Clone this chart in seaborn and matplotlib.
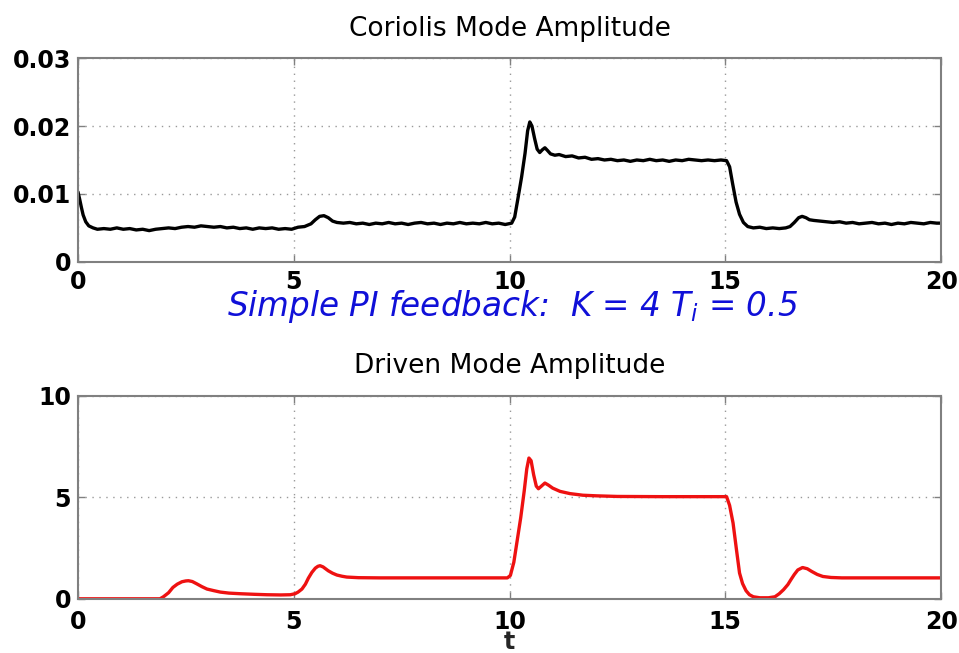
import numpy as np
import pandas as pd
import seaborn as sns
import matplotlib
matplotlib.use("Agg")
import matplotlib.pyplot as plt

# Coriolis mode amplitude
coriolis_t = [0.0, 0.04, 0.08, 0.12, 0.18, 0.25, 0.35, 0.45, 0.6, 0.75, 0.9, 1.05, 1.2, 1.35,
              1.5, 1.65, 1.8, 1.95, 2.1, 2.25, 2.4, 2.55, 2.7, 2.85, 3.0, 3.15, 3.3, 3.45,
              3.6, 3.75, 3.9, 4.05, 4.2, 4.35, 4.5, 4.65, 4.8, 4.95, 5.1, 5.25, 5.4, 5.5,
              5.6, 5.7, 5.8, 5.9, 6.0, 6.15, 6.3, 6.45, 6.6, 6.75, 6.9, 7.05, 7.2, 7.35,
              7.5, 7.65, 7.8, 7.95, 8.1, 8.25, 8.4, 8.55, 8.7, 8.85, 9.0, 9.15, 9.3, 9.45,
              9.6, 9.75, 9.9, 10.05, 10.12, 10.2, 10.28, 10.36, 10.42, 10.47, 10.52, 10.58,
              10.64, 10.7, 10.76, 10.82, 10.88, 10.95, 11.05, 11.15, 11.3, 11.45, 11.6, 11.75,
              11.9, 12.05, 12.2, 12.35, 12.5, 12.65, 12.8, 12.95, 13.1, 13.25, 13.4, 13.55,
              13.7, 13.85, 14.0, 14.15, 14.3, 14.45, 14.6, 14.75, 14.9, 15.03, 15.1, 15.17,
              15.25, 15.33, 15.42, 15.52, 15.65, 15.8, 15.95, 16.1, 16.25, 16.4, 16.5, 16.6,
              16.7, 16.78, 16.87, 16.95, 17.05, 17.2, 17.35, 17.5, 17.65, 17.8, 17.95, 18.1,
              18.25, 18.4, 18.55, 18.7, 18.85, 19.0, 19.15, 19.3, 19.45, 19.6, 19.75, 19.9,
              20.0]
coriolis_amp = [0.0103, 0.0092, 0.0080, 0.0069, 0.0059, 0.0053, 0.0050, 0.0048, 0.0049, 0.0048,
                0.0050, 0.0048, 0.0049, 0.0047, 0.0048, 0.0046, 0.0048, 0.0049, 0.0050, 0.0049,
                0.0051, 0.0052, 0.0051, 0.0053, 0.0052, 0.0051, 0.0052, 0.0050, 0.0051, 0.0049,
                0.0050, 0.0048, 0.0050, 0.0049, 0.0050, 0.0048, 0.0049, 0.0048, 0.0051, 0.0052,
                0.0056, 0.0062, 0.0067, 0.0068, 0.0065, 0.0060, 0.0058, 0.0057, 0.0058, 0.0056,
                0.0057, 0.0055, 0.0057, 0.0056, 0.0058, 0.0056, 0.0057, 0.0055, 0.0057, 0.0058,
                0.0056, 0.0057, 0.0055, 0.0057, 0.0056, 0.0058, 0.0056, 0.0057, 0.0056, 0.0058,
                0.0056, 0.0057, 0.0055, 0.0057, 0.0066, 0.0095, 0.0125, 0.0160, 0.0193, 0.0206,
                0.0200, 0.0182, 0.0166, 0.0161, 0.0165, 0.0168, 0.0164, 0.0159, 0.0157, 0.0158,
                0.0155, 0.0156, 0.0153, 0.0154, 0.0151, 0.0152, 0.0150, 0.0151, 0.0149, 0.0150,
                0.0148, 0.0150, 0.0149, 0.0151, 0.0149, 0.0150, 0.0148, 0.0150, 0.0149, 0.0151,
                0.0150, 0.0149, 0.0150, 0.0149, 0.0150, 0.0149, 0.0140, 0.0115, 0.0088, 0.0070,
                0.0058, 0.0052, 0.0050, 0.0051, 0.0049, 0.0050, 0.0049, 0.0050, 0.0052, 0.0058,
                0.0065, 0.0067, 0.0065, 0.0062, 0.0061, 0.0060, 0.0059, 0.0058, 0.0059, 0.0057,
                0.0058, 0.0056, 0.0057, 0.0058, 0.0056, 0.0057, 0.0055, 0.0057, 0.0056, 0.0058,
                0.0057, 0.0056, 0.0058, 0.0057, 0.0057]

# Driven mode amplitude
driven_t = [0.0, 1.0, 1.9, 1.98, 2.1, 2.2, 2.3, 2.41, 2.5, 2.56, 2.65, 2.75, 2.87, 2.99,
            3.15, 3.3, 3.5, 3.76, 4.1, 4.38, 4.7, 4.92, 5.03, 5.1, 5.19, 5.27, 5.34, 5.42,
            5.5, 5.56, 5.61, 5.68, 5.8, 5.9, 6.0, 6.12, 6.23, 6.5, 7.0, 8.0, 9.0, 9.95,
            10.02, 10.1, 10.18, 10.26, 10.34, 10.4, 10.45, 10.5, 10.56, 10.62, 10.67, 10.74,
            10.82, 10.9, 11.0, 11.17, 11.4, 11.7, 12.02, 12.5, 13.5, 14.5, 15.03, 15.1,
            15.18, 15.26, 15.33, 15.4, 15.48, 15.56, 15.65, 15.8, 16.0, 16.15, 16.25, 16.35,
            16.45, 16.52, 16.6, 16.68, 16.79, 16.9, 17.0, 17.13, 17.26, 17.45, 17.7, 18.5,
            19.5, 20.0]
driven_amp = [0.0, 0.0, 0.0, 0.1, 0.3, 0.56, 0.72, 0.84, 0.88, 0.89, 0.85, 0.74, 0.6, 0.48,
              0.4, 0.33, 0.28, 0.25, 0.22, 0.2, 0.19, 0.2, 0.25, 0.33, 0.48, 0.72, 1.02, 1.3,
              1.51, 1.6, 1.63, 1.57, 1.38, 1.26, 1.17, 1.11, 1.07, 1.04, 1.03, 1.03, 1.03, 1.03,
              1.15, 1.8, 2.9, 4.0, 5.3, 6.4, 6.93, 6.8, 6.1, 5.55, 5.42, 5.55,
              5.7, 5.6, 5.45, 5.29, 5.18, 5.1, 5.07, 5.04, 5.03, 5.03, 5.03, 4.6,
              3.73, 2.4, 1.27, 0.75, 0.4, 0.2, 0.1, 0.05, 0.05, 0.1, 0.25, 0.45,
              0.7, 0.94, 1.2, 1.42, 1.54, 1.48, 1.35, 1.2, 1.10, 1.05, 1.03, 1.03,
              1.03, 1.03]

x_ticks = [0, 5, 10, 15, 20]
coriolis_yticks = [0, 0.01, 0.02, 0.03]
coriolis_ylabels = ["0", "0.01", "0.02", "0.03"]
driven_yticks = [0, 5, 10]
driven_ylabels = ["0", "5", "10"]

sns.set_style("ticks")
plt.rcParams["font.family"] = ["DejaVu Sans"]
plt.rcParams["mathtext.fontset"] = "dejavusans"
plt.rcParams["text.color"] = "black"
plt.rcParams["xtick.labelcolor"] = "black"
plt.rcParams["ytick.labelcolor"] = "black"

coriolis = pd.DataFrame({"t": coriolis_t, "amp": coriolis_amp})
driven = pd.DataFrame({"t": driven_t, "amp": driven_amp})

fig = plt.figure(figsize=(9.59, 6.53), dpi=100)
ax1 = fig.add_axes([0.0813, 0.599, 0.9, 0.312])
ax2 = fig.add_axes([0.0813, 0.083, 0.9, 0.311])


def style_axes(ax, yticks, ylim, ylabels, xpad):
    ax.set_xlim(0, 20)
    ax.set_ylim(*ylim)
    ax.set_xticks(x_ticks)
    ax.set_xticklabels([str(v) for v in x_ticks])
    ax.set_yticks(yticks)
    ax.set_yticklabels(ylabels)
    ax.grid(True, linestyle=(0, (1, 4)), color="#999999", linewidth=1)
    for s in ax.spines.values():
        s.set_visible(True)
        s.set_color("#808080")
        s.set_linewidth(1.5)
    ax.tick_params(direction="in", length=5, width=1, color="#808080",
                   top=True, right=True, labelsize=17)
    ax.tick_params(axis="x", pad=xpad)
    ax.tick_params(axis="y", pad=5)
    for lab in ax.get_xticklabels() + ax.get_yticklabels():
        lab.set_fontweight("bold")
    ax.set_xlabel("")
    ax.set_ylabel("")


sns.lineplot(data=coriolis, x="t", y="amp", ax=ax1, color="black", linewidth=2.4)
style_axes(ax1, coriolis_yticks, (0, 0.03), coriolis_ylabels, xpad=6)
ax1.set_title("Coriolis Mode Amplitude", fontsize=19, pad=16)

sns.lineplot(data=driven, x="t", y="amp", ax=ax2, color="#ee1111", linewidth=2.4)
style_axes(ax2, driven_yticks, (0, 10), driven_ylabels, xpad=8)
ax2.set_title("Driven Mode Amplitude", fontsize=19, pad=16)
ax2.set_xlabel("t", fontsize=17, fontweight="bold", labelpad=-3)

fig.text(0.534, 1 - 316 / 653, r"Simple PI feedback:  K = 4 $T_i$ = 0.5", color="#1010d8",
         fontsize=23.5, fontstyle="italic", ha="center", va="baseline")

fig.savefig("out.png", dpi=100)
